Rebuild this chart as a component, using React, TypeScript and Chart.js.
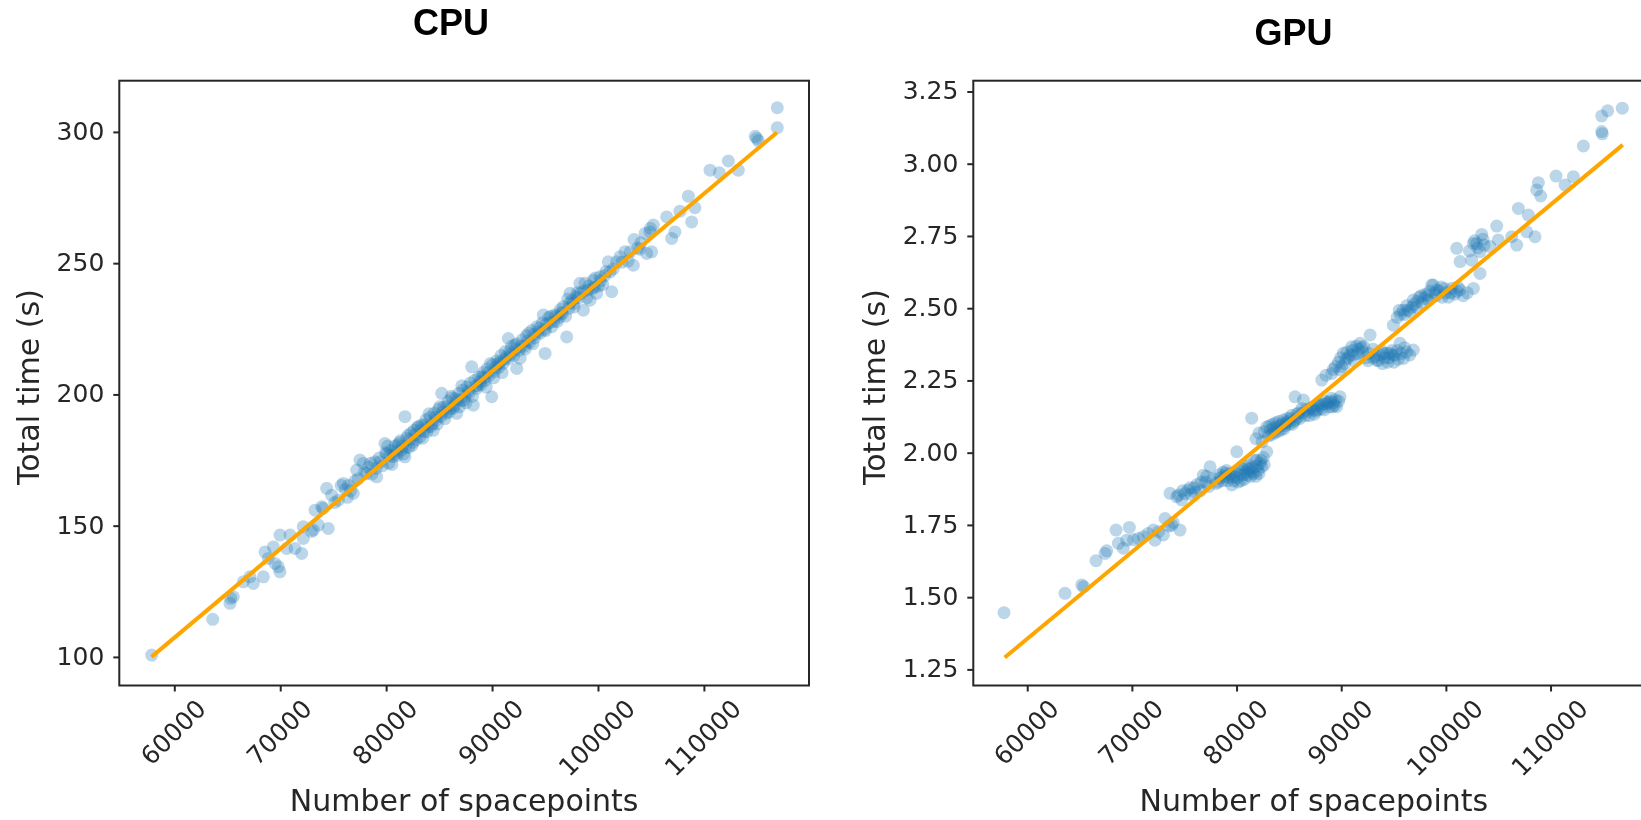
import { useEffect, useRef } from "react";
import { Chart, registerables } from "chart.js";

Chart.register(...registerables);

// ---- CPU run times (seconds) versus number of spacepoints ----
const cpuSpacepoints = [
  57820, 63580, 65210, 65280, 65520, 66470, 67100, 67410, 68360, 68520,
  68830, 69300, 69460, 69770, 69930, 69930, 70560, 70880, 71350, 71980,
  72130, 72130, 72900, 73080, 73240, 73550, 73870, 74000, 74340, 74490,
  74810, 75100, 75440, 75700, 75910, 76100, 76300, 76600, 76850, 77000,
  77170, 77480, 77800, 78100, 78300, 78600, 78900, 79060, 79300, 79600,
  79840, 80000, 80200, 80400, 80600, 80800, 81000, 81200, 81400, 81730,
  81730, 81900, 82100, 82300, 82500, 82700, 82900, 83150, 83300, 83500,
  83700, 83900, 84100, 84300, 84500, 84700, 84900, 85100, 85200, 85400,
  85600, 85800, 86000, 86200, 86400, 86610, 86800, 87000, 87200, 87400,
  87600, 87800, 88030, 88180, 88300, 88500, 88700, 88900, 89100, 89300,
  89500, 89700, 89920, 90000, 90200, 90400, 90600, 90800, 91000, 91200,
  91490, 91500, 91800, 92000, 92280, 92300, 92500, 92800, 93000, 93200,
  93500, 93700, 94000, 94200, 94500, 94790, 94960, 95100, 95300, 95600,
  95900, 96100, 96400, 96680, 96900, 97000, 97300, 97310, 97620, 97900,
  98250, 98250, 98570, 98730, 99000, 99200, 99510, 99830, 100140, 100400,
  100700, 100930, 101090, 101250, 101720, 102030, 102500, 102800, 103290, 103350,
  103700, 104000, 104390, 104550, 104860, 104900, 105020, 105180, 106440, 106910,
  107220, 107690, 108480, 108800, 109110, 110530, 111410, 112260, 113200, 114800,
  114940, 115100, 116880, 116880,
  80100, 80500, 80900, 81300, 81600, 82000, 82400, 82800, 83000, 83400,
  83800, 84000, 84400, 84800, 85000, 85500, 85900, 86100, 86500, 86900,
  87100, 87500, 87900, 88100, 88600, 89000, 89400, 89800, 90100, 90500,
  90900, 91300, 91700, 92100, 92600, 93100, 93400, 93800, 94300, 94700,
  95000, 95500, 95800, 96300, 96600, 97100, 97700, 98000, 98900, 99400,
  99700, 100000,
  76400, 77300, 77900, 78500, 79000, 79400, 79900, 80300, 80700, 81100,
  81500, 81800, 82200, 82600, 83200, 83600, 84200, 84600, 85300, 85700,
  86300, 86700, 87300, 87700, 88400, 88800, 89200, 89600, 90300, 90700,
  91100, 91600, 92200, 92700, 93300, 93900, 94400, 94900, 95400, 96000,
  96500, 97200, 97500, 98100, 98600, 99100, 99600, 100200, 100600, 101400,
  102200, 103000, 103900,
];
const cpuTime = [
  100.9, 114.5, 120.6, 122.5, 123.1, 128.8, 130.7, 128.2, 130.7, 140.2,
  137.7, 142.1, 135.8, 134.5, 132.6, 146.6, 141.5, 146.6, 141.5, 139.6,
  145.3, 149.8, 148.0, 148.5, 156.1, 150.4, 157.4, 156.8, 164.4, 149.1,
  161.8, 159.0, 159.9, 165.5, 166.3, 164.0, 161.0, 163.5, 162.5, 167.2,
  171.4, 175.2, 173.9, 170.0, 172.5, 169.8, 174.5, 168.8, 176.0, 173.0,
  181.5, 177.5, 174.0, 178.8, 176.5, 180.5, 177.0, 181.8, 179.0, 191.7,
  176.4, 183.5, 180.0, 185.5, 182.0, 184.8, 187.5, 184.0, 188.5, 186.0,
  190.5, 187.8, 191.5, 189.0, 193.0, 190.5, 194.5, 191.8, 200.6, 195.5,
  193.0, 197.5, 194.8, 198.8, 196.0, 193.0, 200.5, 197.8, 201.8, 199.5,
  203.0, 200.8, 210.7, 196.1, 205.5, 202.5, 206.8, 204.0, 208.5, 205.5,
  210.0, 207.5, 199.3, 211.5, 209.0, 213.0, 210.5, 215.0, 212.0, 216.5,
  221.5, 213.8, 218.5, 215.0, 210.1, 219.5, 217.0, 221.0, 218.5, 222.5,
  220.0, 224.5, 221.8, 226.0, 223.5, 230.4, 215.8, 227.0, 229.5, 226.0,
  230.5, 228.0, 232.5, 233.6, 230.0, 222.1, 235.0, 238.7, 234.9, 237.5,
  238.7, 242.5, 232.3, 242.5, 240.0, 236.1, 243.7, 238.7, 245.0, 242.0,
  247.0, 250.7, 246.9, 239.3, 250.7, 252.6, 254.5, 251.0, 249.4, 259.2,
  256.0, 258.0, 261.5, 253.9, 262.1, 263.5, 254.5, 264.7, 267.8, 259.6,
  262.1, 270.0, 275.7, 265.9, 271.3, 285.6, 284.6, 289.1, 285.6, 298.5,
  297.7, 296.8, 301.8, 309.4,
  180.5, 173.5, 177.8, 182.5, 177.5, 184.5, 180.8, 183.0, 188.0, 183.5,
  186.0, 192.8, 186.5, 189.0, 195.5, 191.0, 193.5, 199.5, 198.5, 195.5,
  203.5, 197.0, 204.5, 199.5, 203.5, 207.0, 203.0, 212.0, 206.5, 211.8,
  208.5, 214.5, 215.5, 219.0, 214.0, 217.5, 223.5, 219.5, 224.0, 227.5,
  224.5, 230.0, 228.0, 229.5, 231.0, 236.5, 233.5, 239.0, 237.0, 240.5,
  244.5, 241.5,
  165.5, 168.0, 170.5, 174.0, 172.0, 174.5, 178.0, 177.0, 178.5, 181.0,
  180.5, 180.0, 183.0, 186.5, 186.5, 188.5, 188.0, 191.5, 193.5, 195.5,
  195.0, 198.0, 198.0, 201.5, 203.5, 205.0, 206.5, 208.5, 210.5, 212.5,
  213.5, 216.5, 217.5, 218.5, 220.5, 223.0, 225.5, 225.0, 227.5, 230.0,
  231.5, 233.0, 236.0, 237.0, 239.5, 241.5, 241.0, 243.5, 245.5, 248.0,
  250.5, 254.5, 255.5,
];
const cpuFitSpacepoints = [57800, 116850];
const cpuFitTime = [100.2, 300.0];

// ---- GPU run times (seconds) versus number of spacepoints ----
const gpuSpacepoints = [
  57735, 63560, 65160, 65350, 66530, 67390, 67550, 68440, 68660, 69130,
  69460, 69710, 70100, 70570, 71050, 71500, 72000, 72160, 72500, 72960,
  73120, 73500, 73760, 73900, 74550, 73600, 74240, 74400, 74710, 75000,
  75300, 75600, 75900, 76200, 76500, 76780, 77000, 77300, 77420, 77700,
  78000, 78300, 78600, 78700, 78900, 79000, 79200, 79500, 79650, 79800,
  79970, 80100, 80300, 80500, 80700, 80900, 81100, 81300, 81500, 81700,
  81880, 82000, 82200, 82360, 82500, 82840, 81400, 81800, 82100, 82400,
  82840, 83000, 83200, 83400, 83600, 83800, 84000, 84200, 84430, 84600,
  84800, 85000, 85200, 85400, 85540, 85700, 86000, 86340, 86300, 86600,
  86900, 87200, 87290, 87500, 87800, 88100, 88400, 88570, 88800, 89000,
  89200, 89520, 89840, 88090, 88500, 89050, 89400, 89840, 90160, 90300,
  90600, 90960, 91200, 91500, 91750, 92000, 92300, 92710, 93000, 92500,
  93340, 93600, 93900, 94300, 94500, 94800, 95100, 95400, 95570, 95890,
  96200, 96840, 94930, 95300, 95600, 95890, 96200, 96500, 96840, 97100,
  97400, 97700, 98000, 98300, 98600, 98750, 99000, 99300, 99600, 99900,
  100200, 100500, 100800, 101100, 101310, 101600, 102000, 102580, 103210, 100990,
  101310, 102420, 102580, 102700, 103000, 103210, 103380, 103600, 104170, 104810,
  104960, 106240, 106720, 106880, 107680, 107830, 108470, 108630, 108790, 109010,
  110480, 111340, 112130, 113090, 114840, 114900, 114840, 115410, 116810,
  78400, 79100, 79400, 80000, 80400, 80800, 81000, 81200, 81600, 81900,
  82100, 83100, 83500, 83900, 84300, 84700, 85100, 85600, 85900, 86500,
  87000, 87400, 87700, 88000, 88300, 88700, 89100, 89400, 89700, 90000,
  90500, 90800, 91000, 91400, 91900, 93200, 93800, 94100, 94600, 95000,
  95700, 96000, 96000, 96700, 97200, 97900, 98400, 99100, 99500,
  78200, 78800, 79300, 79700, 80200, 80600, 81000, 81400, 81800, 82300,
  82600, 74800, 75500, 76000, 76600, 77100, 82600, 83300, 83700, 84100,
  84500, 84900, 85300, 85800, 86200, 86800, 87600, 88200, 88900, 89300,
  89700, 89200, 89900, 90400, 91100, 91600, 92100, 92600, 93000, 93500,
  94000, 94400, 94900, 95300, 96500, 95500, 96300, 96900, 97600, 98200,
  98900, 99800, 100400, 101000, 102200, 102900, 103500,
];
const gpuTime = [
  1.448, 1.515, 1.544, 1.538, 1.628, 1.653, 1.662, 1.734, 1.688, 1.671,
  1.699, 1.743, 1.700, 1.705, 1.711, 1.722, 1.734, 1.699, 1.728, 1.717,
  1.774, 1.748, 1.751, 1.760, 1.734, 1.861, 1.849, 1.855, 1.838, 1.860,
  1.872, 1.858, 1.880, 1.892, 1.870, 1.924, 1.900, 1.885, 1.953, 1.912,
  1.895, 1.925, 1.905, 1.935, 1.930, 1.940, 1.915, 1.890, 1.918, 1.935,
  2.005, 1.900, 1.925, 1.945, 1.910, 1.935, 1.960, 1.920, 1.950, 1.975,
  1.976, 1.940, 1.965, 1.953, 1.985, 2.005, 2.121, 2.050, 2.070, 2.040,
  2.091, 2.060, 2.080, 2.100, 2.070, 2.090, 2.110, 2.080, 2.115, 2.095,
  2.120, 2.100, 2.130, 2.110, 2.195, 2.135, 2.120, 2.184, 2.140, 2.150,
  2.130, 2.160, 2.149, 2.145, 2.170, 2.155, 2.180, 2.172, 2.160, 2.190,
  2.175, 2.161, 2.195, 2.253, 2.270, 2.276, 2.300, 2.288, 2.346, 2.310,
  2.330, 2.368, 2.320, 2.345, 2.380, 2.350, 2.330, 2.409, 2.360, 2.320,
  2.322, 2.340, 2.310, 2.346, 2.330, 2.355, 2.340, 2.325, 2.380, 2.328,
  2.350, 2.357, 2.443, 2.470, 2.480, 2.495, 2.510, 2.490, 2.530, 2.505,
  2.540, 2.520, 2.550, 2.530, 2.582, 2.582, 2.545, 2.560, 2.540, 2.555,
  2.540, 2.570, 2.550, 2.575, 2.565, 2.545, 2.555, 2.570, 2.622, 2.709,
  2.663, 2.668, 2.726, 2.735, 2.710, 2.697, 2.757, 2.720, 2.715, 2.786,
  2.738, 2.749, 2.720, 2.847, 2.766, 2.824, 2.749, 2.911, 2.936, 2.890,
  2.959, 2.928, 2.957, 3.063, 3.113, 3.105, 3.167, 3.185, 3.194,
  1.915, 1.905, 1.930, 1.915, 1.905, 1.955, 1.925, 1.945, 1.930, 1.955,
  1.930, 2.095, 2.085, 2.075, 2.100, 2.105, 2.120, 2.115, 2.140, 2.130,
  2.155, 2.135, 2.150, 2.165, 2.150, 2.175, 2.160, 2.185, 2.315, 2.300,
  2.350, 2.340, 2.355, 2.370, 2.365, 2.335, 2.355, 2.330, 2.345, 2.315,
  2.345, 2.365, 2.480, 2.505, 2.525, 2.535, 2.560, 2.565, 2.575,
  1.900, 1.920, 1.925, 1.905, 1.940, 1.925, 1.945, 1.935, 1.920, 1.975,
  1.960, 1.870, 1.880, 1.865, 1.900, 1.920, 2.075, 2.065, 2.105, 2.095,
  2.085, 2.110, 2.100, 2.125, 2.155, 2.145, 2.165, 2.170, 2.180, 2.165,
  2.180, 2.290, 2.330, 2.325, 2.340, 2.360, 2.370, 2.345, 2.330, 2.320,
  2.345, 2.315, 2.340, 2.355, 2.340, 2.495, 2.495, 2.515, 2.545, 2.545,
  2.555, 2.570, 2.555, 2.560, 2.700, 2.725, 2.740,
];
const gpuFitSpacepoints = [57800, 116850];
const gpuFitTime = [1.293, 3.067];

// ---- Axis ticks ----
const xTicks = [60000, 70000, 80000, 90000, 100000, 110000];
const xTickLabels = ["60000", "70000", "80000", "90000", "100000", "110000"];
const cpuYTicks = [100, 150, 200, 250, 300];
const cpuYTickLabels = ["100", "150", "200", "250", "300"];
const gpuYTicks = [1.25, 1.5, 1.75, 2.0, 2.25, 2.5, 2.75, 3.0, 3.25];
const gpuYTickLabels = ["1.25", "1.50", "1.75", "2.00", "2.25", "2.50", "2.75", "3.00", "3.25"];

const X_TITLE = "Number of spacepoints";
const Y_TITLE = "Total time (s)";

const TICK_FONT = 25;
const LABEL_FONT = 30;
const TEXT_COLOR = "#262626";

type Panel = {
  title: string;
  titleX: number;
  titleY: number;
  left: number;
  width: number;
  padding: { left: number; top: number; right: number; bottom: number };
  xMin: number;
  xMax: number;
  yMin: number;
  yMax: number;
  xs: number[];
  ys: number[];
  fitX: number[];
  fitY: number[];
  yTicks: number[];
  yTickLabels: string[];
  yTitleX: number;
};

const panels: Panel[] = [
  {
    title: "CPU",
    titleX: 451,
    titleY: 25,
    left: 0,
    width: 820,
    padding: { left: 119.3, top: 80.7, right: 11, bottom: 134.5 },
    xMin: 54760,
    xMax: 119875,
    yMin: 89.3,
    yMax: 319.7,
    xs: cpuSpacepoints,
    ys: cpuTime,
    fitX: cpuFitSpacepoints,
    fitY: cpuFitTime,
    yTicks: cpuYTicks,
    yTickLabels: cpuYTickLabels,
    yTitleX: 31,
  },
  {
    title: "GPU",
    titleX: 433.5,
    titleY: 35.5,
    left: 860,
    width: 860,
    padding: { left: 113.3, top: 80.7, right: 65.6, bottom: 134.5 },
    xMin: 54800,
    xMax: 119875,
    yMin: 1.196,
    yMax: 3.289,
    xs: gpuSpacepoints,
    ys: gpuTime,
    fitX: gpuFitSpacepoints,
    fitY: gpuFitTime,
    yTicks: gpuYTicks,
    yTickLabels: gpuYTickLabels,
    yTitleX: 17,
  },
];

function makeDecor(panel: Panel) {
  return {
    id: "axesDecor",
    afterDatasetsDraw(chart: Chart) {
      const { ctx, chartArea: a } = chart;
      const xs = chart.scales.x;
      const ys = chart.scales.y;
      ctx.save();

      // axes frame
      ctx.strokeStyle = TEXT_COLOR;
      ctx.lineWidth = 2;
      ctx.strokeRect(a.left, a.top, a.right - a.left, a.bottom - a.top);

      ctx.fillStyle = TEXT_COLOR;
      ctx.font = `${TICK_FONT}px "DejaVu Sans"`;

      // y ticks and labels
      ctx.textAlign = "right";
      ctx.textBaseline = "middle";
      panel.yTicks.forEach((v, i) => {
        const py = ys.getPixelForValue(v);
        ctx.beginPath();
        ctx.moveTo(a.left - 6, py);
        ctx.lineTo(a.left, py);
        ctx.stroke();
        ctx.fillText(panel.yTickLabels[i], a.left - 15, py + 1);
      });

      // x ticks and rotated labels
      xTicks.forEach((v, i) => {
        const px = xs.getPixelForValue(v);
        ctx.beginPath();
        ctx.moveTo(px, a.bottom);
        ctx.lineTo(px, a.bottom + 6);
        ctx.stroke();
        const label = xTickLabels[i];
        const w = ctx.measureText(label).width;
        const half = ((w + TICK_FONT * 1.16) * Math.SQRT1_2) / 2;
        ctx.save();
        ctx.translate(px, a.bottom + 10 + half);
        ctx.rotate(-Math.PI / 4);
        ctx.textAlign = "center";
        ctx.textBaseline = "middle";
        ctx.fillText(label, 0, 0);
        ctx.restore();
      });

      // axis titles
      ctx.font = `${LABEL_FONT}px "DejaVu Sans"`;
      ctx.textAlign = "center";
      ctx.textBaseline = "middle";
      ctx.fillText(X_TITLE, (a.left + a.right) / 2, 803);
      ctx.save();
      ctx.translate(panel.yTitleX, (a.top + a.bottom) / 2 + 4);
      ctx.rotate(-Math.PI / 2);
      ctx.fillText(Y_TITLE, 0, 0);
      ctx.restore();

      // panel title
      ctx.fillStyle = "#000";
      ctx.font = 'bold 36px "Liberation Sans"';
      ctx.fillText(panel.title, panel.titleX, panel.titleY);

      ctx.restore();
    },
  };
}

function PanelChart({ panel }: { panel: Panel }) {
  const ref = useRef<HTMLCanvasElement>(null);

  useEffect(() => {
    const canvas = ref.current;
    if (!canvas) return;
    const points = panel.xs.map((x, i) => ({ x, y: panel.ys[i] }));
    const fit = panel.fitX.map((x, i) => ({ x, y: panel.fitY[i] }));
    const chart = new Chart(canvas, {
      type: "scatter",
      data: {
        datasets: [
          {
            type: "line",
            data: fit,
            borderColor: "#ffa500",
            borderWidth: 4,
            pointRadius: 0,
            fill: false,
            tension: 0,
            order: 0,
          } as any,
          {
            data: points,
            backgroundColor: "rgba(31,119,180,0.3)",
            borderWidth: 0,
            pointRadius: 6.5,
            order: 1,
          },
        ],
      },
      options: {
        animation: false,
        responsive: false,
        devicePixelRatio: 1,
        events: [],
        layout: { padding: panel.padding },
        plugins: {
          legend: { display: false },
          tooltip: { enabled: false },
          title: { display: false },
        },
        scales: {
          x: { type: "linear", display: false, min: panel.xMin, max: panel.xMax },
          y: { type: "linear", display: false, min: panel.yMin, max: panel.yMax },
        },
      },
      plugins: [makeDecor(panel)],
    });
    return () => chart.destroy();
  }, [panel]);

  return (
    <canvas
      ref={ref}
      width={panel.width}
      height={820}
      style={{ position: "absolute", left: panel.left, top: 0, width: panel.width, height: 820 }}
    />
  );
}

export default function App() {
  return (
    <div
      style={{
        position: "fixed",
        left: 0,
        top: 0,
        width: 1641,
        height: 820,
        overflow: "hidden",
        background: "#fff",
      }}
    >
      {panels.map((p) => (
        <PanelChart key={p.title} panel={p} />
      ))}
    </div>
  );
}
